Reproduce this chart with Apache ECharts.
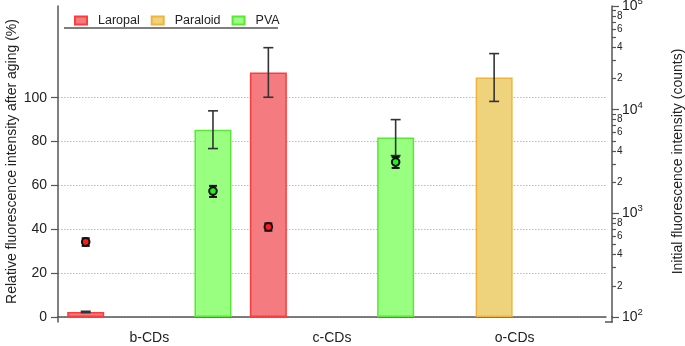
<!DOCTYPE html>
<html>
<head>
<meta charset="utf-8">
<script src="https://cdn.jsdelivr.net/npm/echarts@6/dist/echarts.min.js"></script>
<style>
html,body{margin:0;padding:0;background:#fff;}
#chart{width:685px;height:346px;}
</style>
</head>
<body>
<div id="chart"></div>
<script>
// categories
var categories = ['b-CDs', 'c-CDs', 'o-CDs'];

// relative fluorescence intensity after aging (%), bars + errors
var laropalRel = [2.3, 111.5, null];
var laropalRelErr = [0.3, 11.3, null];
var paraloidRel = [null, null, 109.2];
var paraloidRelErr = [null, null, 10.9];
var pvaRel = [85.4, 81.8, null];
var pvaRelErr = [8.6, 8.2, null];

// initial fluorescence intensity (counts), points on the log axis
var laropalInit = [530, 740, null];
var laropalInitErr = [45, 60, null];
var pvaInit = [1640, 3120, null];
var pvaInitErr = [200, 380, null];

// tick values
var leftTicks = [0, 20, 40, 60, 80, 100];
var rightMajor = [100, 1000, 10000, 100000];
var rightMinorTicks = [200, 300, 400, 500, 600, 700, 800, 900,
  2000, 3000, 4000, 5000, 6000, 7000, 8000, 9000,
  20000, 30000, 40000, 50000, 60000, 70000, 80000, 90000];
var rightMinorLabels = [200, 400, 600, 800, 2000, 4000, 6000, 8000, 20000, 40000, 60000, 80000];

var font = 'Liberation Sans, Arial, Helvetica, sans-serif';
var axisCol = '#555';
var barW = 37;
var gapMain = 2.44;   // Laropal / PVA on the main axis
var gapPara = 0.11;   // Paraloid sits a bit left of centre
var shiftMain = (barW + barW * gapMain) / 2;
var shiftPara = -(barW + barW * gapPara) / 2;

var colors = {
  Laropal: { fill: '#f47b7f', line: '#ff3c3c', dot: '#ff1a1a' },
  Paraloid: { fill: '#eed27c', line: '#efb43e' },
  PVA: { fill: '#99ff80', line: '#5ce63a', dot: '#22ee22' }
};

function toRows(vals, errs) {
  var rows = [];
  vals.forEach(function (v, i) { if (v != null) rows.push([i, v, errs[i]]); });
  return rows;
}

function errBars(vals, errs, xIdx, shift) {
  return {
    type: 'custom', xAxisIndex: xIdx, yAxisIndex: 0, z: 5, silent: true,
    data: toRows(vals, errs),
    renderItem: function (params, api) {
      var i = api.value(0), v = api.value(1), e = api.value(2);
      var top = api.coord([i, v + e]), bot = api.coord([i, v - e]);
      var x = top[0] + shift, h = 5;
      var st = { stroke: '#333', lineWidth: 1.6 };
      return { type: 'group', children: [
        { type: 'line', shape: { x1: x, y1: top[1], x2: x, y2: bot[1] }, style: st },
        { type: 'line', shape: { x1: x - h, y1: top[1], x2: x + h, y2: top[1] }, style: st },
        { type: 'line', shape: { x1: x - h, y1: bot[1], x2: x + h, y2: bot[1] }, style: st }
      ] };
    }
  };
}

function dots(vals, errs, shift, fill) {
  return {
    type: 'custom', xAxisIndex: 0, yAxisIndex: 1, z: 6, silent: true,
    data: toRows(vals, errs),
    renderItem: function (params, api) {
      var i = api.value(0), v = api.value(1), e = api.value(2);
      var c = api.coord([i, v]), top = api.coord([i, v + e]), bot = api.coord([i, v - e]);
      var x = c[0] + shift, h = 4;
      var st = { stroke: '#111', lineWidth: 2 };
      return { type: 'group', children: [
        { type: 'line', shape: { x1: x, y1: top[1], x2: x, y2: bot[1] }, style: st },
        { type: 'line', shape: { x1: x - h, y1: top[1], x2: x + h, y2: top[1] }, style: st },
        { type: 'line', shape: { x1: x - h, y1: bot[1], x2: x + h, y2: bot[1] }, style: st },
        { type: 'circle', shape: { cx: x, cy: c[1], r: 3.8 }, style: { fill: fill, stroke: '#111', lineWidth: 2 } }
      ] };
    }
  };
}

function barStyle(name) {
  return { color: colors[name].fill, borderColor: colors[name].line, borderWidth: 1.5 };
}

var chart = echarts.init(document.getElementById('chart'));
chart.setOption({
  animation: false,
  textStyle: { fontFamily: font },
  grid: { left: 58, right: 79, top: 6, bottom: 29, containLabel: false, outerBoundsMode: 'none' },
  legend: {
    data: ['Laropal', 'Paraloid', 'PVA'],
    left: 74, top: 14, padding: 0,
    icon: 'rect', itemWidth: 12, itemHeight: 8, itemGap: 11,
    textStyle: { fontSize: 12.5, color: '#222', fontFamily: font, padding: [0, 0, 0, 6] }
  },
  xAxis: [
    {
      type: 'category', data: categories, offset: 5,
      axisLine: { lineStyle: { color: axisCol, width: 1.5 } },
      axisTick: { length: 4, lineStyle: { color: '#333', width: 1.2 } },
      axisLabel: { fontSize: 14, color: '#222', margin: 9 },
      splitLine: { show: false }
    },
    {
      type: 'category', data: categories, offset: 5,
      axisLine: { show: false },
      axisTick: { inside: true, length: 4, lineStyle: { color: '#333', width: 1.2 } },
      axisLabel: { show: false }
    },
    {
      type: 'category', data: categories, show: false
    }
  ],
  yAxis: [
    {
      type: 'value', min: 0, max: 141.8, position: 'left',
      name: 'Relative fluorescence intensity after aging (%)',
      nameLocation: 'middle', nameGap: 39, nameMoveOverlap: false,
      nameTextStyle: { fontSize: 14, color: '#222' },
      axisLine: { show: true, lineStyle: { color: axisCol, width: 1.5 } },
      axisTick: { show: true, length: 7, customValues: leftTicks, lineStyle: { color: axisCol, width: 1.2 } },
      axisLabel: { fontSize: 14, color: '#222', margin: 11, customValues: leftTicks },
      splitLine: { show: true, lineStyle: { color: '#bbb', type: [1.5, 1.5], width: 1 } }
    },
    {
      type: 'log', logBase: 10, min: 100, max: 100000, position: 'right', offset: 6,
      name: 'Initial fluorescence intensity (counts)',
      nameLocation: 'middle', nameGap: 59, nameRotate: 90,
      nameTextStyle: { fontSize: 14, color: '#222' },
      axisLine: { show: true, lineStyle: { color: axisCol, width: 1.5 } },
      axisTick: { show: true, length: 7, customValues: rightMajor, lineStyle: { color: axisCol, width: 1.2 } },
      axisLabel: {
        customValues: rightMajor, margin: 10, color: '#222',
        formatter: function (v) { return '{b|10}{s|' + Math.round(Math.log10(v)) + '}'; },
        rich: {
          b: { fontSize: 14, color: '#222', fontFamily: font },
          s: { fontSize: 9.5, color: '#222', fontFamily: font, verticalAlign: 'top', padding: [0, 0, 9, 0] }
        }
      },
      splitLine: { show: false }
    },
    {
      type: 'log', logBase: 10, min: 100, max: 100000, position: 'right', offset: 6,
      axisLine: { show: false },
      axisTick: { show: true, length: 4, customValues: rightMinorTicks, lineStyle: { color: axisCol, width: 1.2 } },
      axisLabel: {
        customValues: rightMinorLabels, margin: 5, fontSize: 10, color: '#222',
        formatter: function (v) { return String(Math.round(v / Math.pow(10, Math.floor(Math.log10(v) + 1e-9)))); }
      },
      splitLine: { show: false }
    }
  ],
  graphic: [
    { type: 'line', shape: { x1: 64, y1: 28, x2: 278, y2: 28 }, style: { stroke: axisCol, lineWidth: 1.5 } },
    { type: 'line', shape: { x1: 58, y1: 316, x2: 58, y2: 322.5 }, style: { stroke: axisCol, lineWidth: 1.5 } },
    { type: 'line', shape: { x1: 612, y1: 316, x2: 612, y2: 322.5 }, style: { stroke: axisCol, lineWidth: 1.5 } },
    { type: 'line', shape: { x1: 605, y1: 322, x2: 612.7, y2: 322 }, style: { stroke: axisCol, lineWidth: 1.5 } }
  ],
  series: [
    { type: 'bar', name: 'Laropal', xAxisIndex: 0, yAxisIndex: 0, data: laropalRel,
      barWidth: barW, barGap: gapMain * 100 + '%', itemStyle: barStyle('Laropal') },
    { type: 'bar', name: 'PVA', xAxisIndex: 0, yAxisIndex: 0, data: pvaRel,
      barWidth: barW, barGap: gapMain * 100 + '%', itemStyle: barStyle('PVA') },
    { type: 'bar', name: 'Paraloid', xAxisIndex: 2, yAxisIndex: 0, data: paraloidRel,
      barWidth: barW, barGap: gapPara * 100 + '%', itemStyle: barStyle('Paraloid') },
    { type: 'bar', name: 'pad', xAxisIndex: 2, yAxisIndex: 0, data: [null, null, null],
      barWidth: barW, barGap: gapPara * 100 + '%' },
    errBars(laropalRel, laropalRelErr, 0, -shiftMain),
    errBars(pvaRel, pvaRelErr, 0, shiftMain),
    errBars(paraloidRel, paraloidRelErr, 2, shiftPara),
    dots(laropalInit, laropalInitErr, -shiftMain, colors.Laropal.dot),
    dots(pvaInit, pvaInitErr, shiftMain, colors.PVA.dot)
  ]
});
</script>
</body>
</html>
